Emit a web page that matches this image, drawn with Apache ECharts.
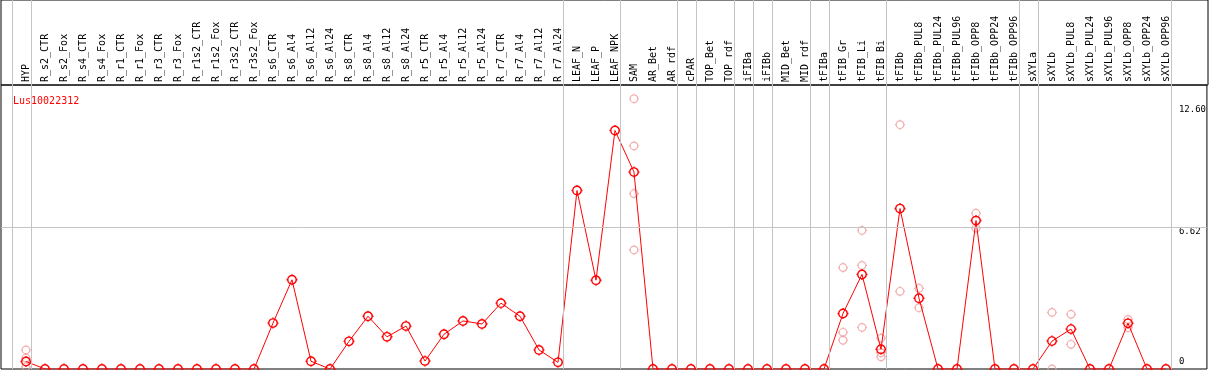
<!DOCTYPE html>
<html>
<head>
<meta charset="utf-8">
<script src="https://cdn.jsdelivr.net/npm/echarts@6/dist/echarts.min.js"></script>
<style>
  html, body { margin: 0; padding: 0; background: #fff; }
  #chart { width: 1209px; height: 370px; }
</style>
</head>
<body>
<div id="chart"></div>
<script>
var geneName = 'Lus10022312';

var categories = [
  'HYP', 'R_s2_CTR', 'R_s2_Fox', 'R_s4_CTR', 'R_s4_Fox', 'R_r1_CTR', 'R_r1_Fox',
  'R_r3_CTR', 'R_r3_Fox', 'R_r1s2_CTR', 'R_r1s2_Fox', 'R_r3s2_CTR', 'R_r3s2_Fox',
  'R_s6_CTR', 'R_s6_Al4', 'R_s6_Al12', 'R_s6_Al24', 'R_s8_CTR', 'R_s8_Al4',
  'R_s8_Al12', 'R_s8_Al24', 'R_r5_CTR', 'R_r5_Al4', 'R_r5_Al12', 'R_r5_Al24',
  'R_r7_CTR', 'R_r7_Al4', 'R_r7_Al12', 'R_r7_Al24', 'LEAF_N', 'LEAF_P', 'LEAF_NPK',
  'SAM', 'AR_Bet', 'AR_rdf', 'cPAR', 'TOP_Bet', 'TOP_rdf', 'iFIBa', 'iFIBb',
  'MID_Bet', 'MID_rdf', 'tFIBa', 'tFIB_Gr', 'tFIB_Li', 'tFIB_Bi', 'tFIBb',
  'tFIBb_PUL8', 'tFIBb_PUL24', 'tFIBb_PUL96', 'tFIBb_OPP8', 'tFIBb_OPP24', 'tFIBb_OPP96',
  'sXYLa', 'sXYLb', 'sXYLb_PUL8', 'sXYLb_PUL24', 'sXYLb_PUL96', 'sXYLb_OPP8',
  'sXYLb_OPP24', 'sXYLb_OPP96'
];

// mean expression per sample
var meanValues = [
  0.35, 0, 0, 0, 0, 0, 0, 0, 0, 0, 0, 0, 0,
  2.14, 4.16, 0.36, 0, 1.29, 2.46, 1.50, 2.00,
  0.37, 1.62, 2.24, 2.10, 3.07, 2.46, 0.89, 0.31,
  8.32, 4.14, 11.12, 9.18,
  0, 0, 0, 0, 0, 0, 0, 0, 0, 0,
  2.59, 4.41, 0.92, 7.48, 3.30, 0, 0, 6.92, 0, 0,
  0, 1.30, 1.86, 0, 0, 2.13, 0, 0
];

// replicates (sample name + value)
var repSamples = [
  'HYP', 'HYP', 'HYP',
  'SAM', 'SAM', 'SAM', 'SAM',
  'tFIB_Gr', 'tFIB_Gr', 'tFIB_Gr',
  'tFIB_Li', 'tFIB_Li', 'tFIB_Li',
  'tFIB_Bi', 'tFIB_Bi', 'tFIB_Bi',
  'tFIBb', 'tFIBb',
  'tFIBb_PUL8', 'tFIBb_PUL8',
  'tFIBb_OPP8', 'tFIBb_OPP8',
  'sXYLb', 'sXYLb',
  'sXYLb_PUL8', 'sXYLb_PUL8',
  'sXYLb_OPP8', 'sXYLb_OPP8'
];
var repValues = [
  0.89, 0.51, 0.1,
  12.60, 10.40, 8.18, 5.55,
  4.73, 1.71, 1.34,
  6.46, 4.83, 1.94,
  1.44, 0.76, 0.57,
  11.39, 3.62,
  3.76, 2.86,
  7.26, 6.57,
  2.64, 0,
  2.55, 1.15,
  2.31, 1.93
];

// last sample of each group ('' = frame start)
var groupEnds = ['', 'HYP', 'R_r7_Al24', 'LEAF_NPK', 'AR_rdf', 'cPAR', 'TOP_rdf', 'iFIBa',
  'iFIBb', 'MID_rdf', 'tFIBa', 'tFIB_Bi', 'tFIBb_OPP96', 'sXYLa', 'sXYLb_OPP96'];

var yMax = 13.24;
var yTickValues = [0, 6.62, 12.6];
var yTickLabels = ['0', '6.62', '12.60'];

var RED = '#ff0000';
var REP = '#f09a9a';
var SEP = '#c4c4c4';
var MONO = '"DejaVu Sans Mono", monospace';

// round marker with four tiny ticks
var dotSymbol = 'path://M6,0 L6,1.4 M6,10.6 L6,12 M0,6 L1.4,6 M10.6,6 L12,6 ' +
  'M10.6,6 C10.6,8.54 8.54,10.6 6,10.6 C3.46,10.6 1.4,8.54 1.4,6 ' +
  'C1.4,3.46 3.46,1.4 6,1.4 C8.54,1.4 10.6,3.46 10.6,6 Z';

var step = 19;
var sepMin = -25 / step;
var sepMax = sepMin + 1207 / step;

var repData = repSamples.map(function (s, i) {
  return [s, repValues[i]];
});
var sepData = groupEnds.map(function (g) {
  return { xAxis: categories.indexOf(g) + 0.25 };
});

var dom = document.getElementById('chart');
var myChart = echarts.init(dom, null, { renderer: 'canvas' });

var option = {
  animation: false,
  backgroundColor: '#fff',
  title: {
    text: geneName,
    left: 8,
    top: 91,
    textStyle: { color: RED, fontFamily: MONO, fontSize: 10, fontWeight: 'normal' }
  },
  grid: [
    // header box
    { left: 1, right: 1, top: 0, height: 85, show: true, borderColor: '#000', borderWidth: 1, backgroundColor: 'transparent' },
    // plot frame
    { left: 1, right: 1, top: 85, bottom: 1, show: true, borderColor: '#000', borderWidth: 1, backgroundColor: 'transparent' },
    // data area
    { left: 16.5, right: 33.5, top: 85, bottom: 1 },
    // separators, full height
    { left: 1, right: 1, top: 0, bottom: 1 }
  ],
  xAxis: [
    { gridIndex: 0, type: 'value', show: false },
    { gridIndex: 1, type: 'value', show: false },
    {
      gridIndex: 2,
      type: 'category',
      data: categories,
      position: 'top',
      boundaryGap: true,
      axisLine: { show: false },
      axisTick: { show: false },
      splitLine: { show: false },
      axisLabel: {
        interval: 0,
        rotate: 90,
        margin: 3,
        color: '#000',
        fontFamily: MONO,
        fontSize: 10
      }
    },
    { gridIndex: 3, type: 'value', min: sepMin, max: sepMax, show: false }
  ],
  yAxis: [
    { gridIndex: 0, type: 'value', show: false },
    {
      gridIndex: 1,
      type: 'value',
      min: 0,
      max: yMax,
      position: 'right',
      axisLine: { show: false },
      axisTick: { show: false },
      splitLine: { show: false },
      axisLabel: {
        inside: true,
        margin: 28,
        align: 'left',
        verticalAlign: 'middle',
        customValues: yTickValues,
        color: '#000',
        fontFamily: MONO,
        fontSize: 9,
        formatter: function (v) {
          var i = yTickValues.indexOf(v);
          return '{a' + i + '|' + yTickLabels[i] + '}';
        },
        rich: {
          a0: { fontFamily: MONO, fontSize: 9, padding: [0, 0, 14, 0] },
          a1: { fontFamily: MONO, fontSize: 9, padding: [10, 0, 0, 0] },
          a2: { fontFamily: MONO, fontSize: 9, padding: [22, 0, 0, 0] }
        }
      }
    },
    { gridIndex: 2, type: 'value', min: 0, max: yMax, show: false },
    { gridIndex: 3, type: 'value', min: 0, max: 1, show: false }
  ],
  series: [
    {
      name: 'sep',
      type: 'line',
      xAxisIndex: 3,
      yAxisIndex: 3,
      data: [],
      silent: true,
      markLine: {
        silent: true,
        symbol: 'none',
        label: { show: false },
        lineStyle: { color: SEP, width: 1, type: 'solid' },
        data: sepData
      }
    },
    {
      name: 'grid',
      type: 'line',
      xAxisIndex: 1,
      yAxisIndex: 1,
      data: [],
      silent: true,
      markLine: {
        silent: true,
        symbol: 'none',
        label: { show: false },
        lineStyle: { color: SEP, width: 1, type: 'solid' },
        data: [{ yAxis: yTickValues[1] }]
      }
    },
    {
      name: 'replicates',
      type: 'scatter',
      xAxisIndex: 2,
      yAxisIndex: 2,
      data: repData,
      symbol: dotSymbol,
      symbolSize: 10,
      itemStyle: { color: 'none', borderColor: REP, borderWidth: 1.2 },
      z: 3
    },
    {
      name: geneName,
      type: 'line',
      xAxisIndex: 2,
      yAxisIndex: 2,
      data: meanValues,
      symbol: dotSymbol,
      symbolSize: 11,
      showAllSymbol: true,
      lineStyle: { color: RED, width: 1 },
      itemStyle: { color: 'none', borderColor: RED, borderWidth: 1.4 },
      z: 4
    }
  ]
};

myChart.setOption(option);
</script>
</body>
</html>
